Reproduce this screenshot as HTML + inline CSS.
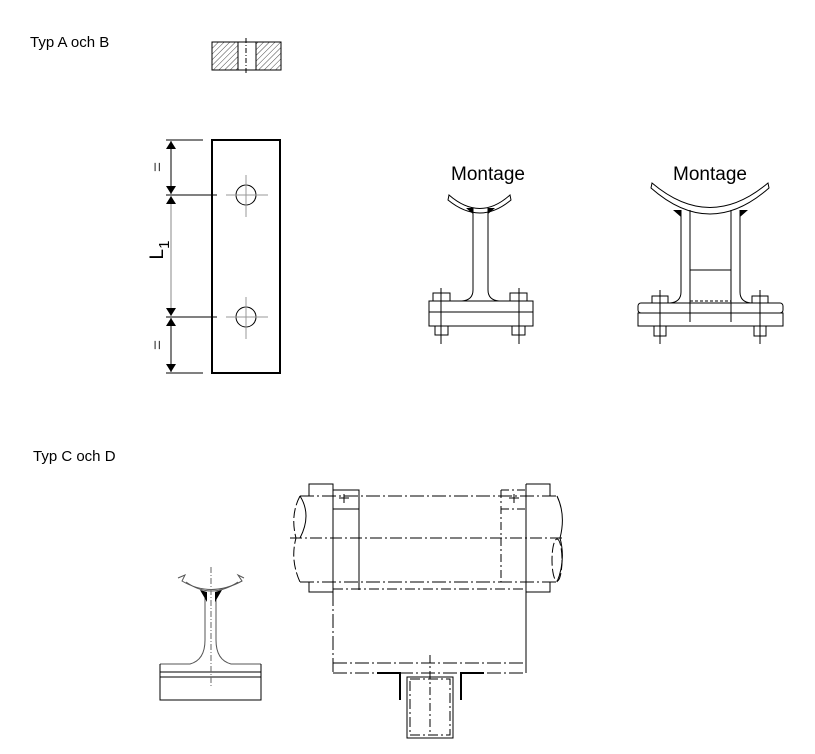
<!DOCTYPE html>
<html><head><meta charset="utf-8"><style>
body{margin:0;background:#fff;width:815px;height:754px;overflow:hidden}
svg{display:block}
text{font-family:"Liberation Sans",sans-serif}
</style></head><body>
<svg width="815" height="754" viewBox="0 0 815 754" xmlns="http://www.w3.org/2000/svg">
<defs>
<pattern id="h" width="4" height="4" patternUnits="userSpaceOnUse" patternTransform="rotate(45)">
<line x1="0" y1="0" x2="0" y2="4" stroke="#333" stroke-width="0.9"/></pattern>
<marker id="a" markerWidth="8" markerHeight="10" refX="8" refY="5" orient="auto" markerUnits="userSpaceOnUse">
<path d="M0,0 L8,5 L0,10 z" fill="#000"/></marker>
</defs>
<text x="30" y="47" font-size="15">Typ A och B</text>
<text x="33" y="461" font-size="15">Typ C och D</text>

<!-- section -->
<rect x="212" y="42" width="26" height="28" fill="url(#h)" stroke="#000"/>
<rect x="256" y="42" width="25" height="28" fill="url(#h)" stroke="#000"/>
<line x1="212" y1="42" x2="281" y2="42" stroke="#000"/>
<line x1="212" y1="70" x2="281" y2="70" stroke="#000"/>
<line x1="246" y1="38" x2="246" y2="74" stroke="#000" stroke-dasharray="5,2,1,2"/>

<!-- plate -->
<rect x="212" y="140" width="68" height="233" fill="none" stroke="#000" stroke-width="2"/>
<circle cx="246" cy="195" r="10" fill="none" stroke="#000"/>
<circle cx="246" cy="317" r="10" fill="none" stroke="#000"/>
<g stroke="#999"><line x1="226" y1="195" x2="268" y2="195"/><line x1="246" y1="175" x2="246" y2="217"/>
<line x1="226" y1="317" x2="268" y2="317"/><line x1="246" y1="297" x2="246" y2="339"/></g>
<g stroke="#000"><line x1="166" y1="140" x2="203" y2="140"/><line x1="166" y1="195" x2="217" y2="195"/>
<line x1="166" y1="317" x2="217" y2="317"/><line x1="166" y1="373" x2="203" y2="373"/></g>
<g stroke="#000" stroke-width="1"><line x1="171" y1="167" x2="171" y2="141" marker-end="url(#a)"/><line x1="171" y1="167" x2="171" y2="194" marker-end="url(#a)"/>
<line x1="171" y1="345" x2="171" y2="318" marker-end="url(#a)"/><line x1="171" y1="345" x2="171" y2="372" marker-end="url(#a)"/></g>
<g stroke="#888"><line x1="171" y1="256" x2="171" y2="196" marker-end="url(#a)"/><line x1="171" y1="256" x2="171" y2="316" marker-end="url(#a)"/></g>
<text transform="translate(163,167) rotate(-90)" font-size="17" text-anchor="middle" fill="#444">=</text>
<text transform="translate(163,345) rotate(-90)" font-size="17" text-anchor="middle" fill="#444">=</text>
<text transform="translate(163,250) rotate(-90)" font-size="19" text-anchor="middle">L<tspan font-size="15" dy="6">1</tspan></text>

<!-- middle support -->
<text x="488" y="180" font-size="19" text-anchor="middle">Montage</text>
<g fill="none" stroke="#000">
<path d="M449,195 Q480,222 510,195 L511,200 Q480,226 448,200 z" fill="#fff"/>
<path d="M473,208 L473,290 Q473,300 462,301 L429,301"/>
<path d="M488,208 L488,290 Q488,300 499,301 L533,301"/>
<rect x="429" y="301" width="104" height="11"/><rect x="429" y="312" width="104" height="14"/>
<rect x="433" y="293" width="17" height="8" fill="#fff"/><rect x="510" y="293" width="17" height="8" fill="#fff"/>
<rect x="435" y="326" width="13" height="9"/><rect x="512" y="326" width="13" height="9"/>
<line x1="441" y1="288" x2="441" y2="344"/><line x1="519" y1="288" x2="519" y2="344"/>
</g>
<path d="M466,208 L473,208 L473,214 z M495,208 L488,208 L488,214 z" fill="#000"/>

<!-- right support -->
<text x="710" y="180" font-size="19" text-anchor="middle">Montage</text>
<g fill="none" stroke="#000">
<path d="M652,183 Q710,232 768,183 L769,188 Q710,240 651,188 z" fill="#fff"/>
<path d="M681,210 L681,292 Q681,302 670,303"/><line x1="690" y1="210" x2="690" y2="322"/>
<line x1="731" y1="210" x2="731" y2="322"/><path d="M740,210 L740,292 Q740,302 751,303"/>
<line x1="690" y1="270" x2="731" y2="270"/><line x1="690" y1="301" x2="731" y2="301" stroke-dasharray="3,2"/>
<rect x="638" y="303" width="145" height="10" rx="3"/><rect x="638" y="313" width="145" height="13"/>
<rect x="652" y="296" width="16" height="7" fill="#fff"/><rect x="752" y="296" width="16" height="7" fill="#fff"/>
<rect x="654" y="326" width="12" height="10"/><rect x="754" y="326" width="12" height="10"/>
<line x1="660" y1="290" x2="660" y2="344"/><line x1="760" y1="290" x2="760" y2="344"/>
</g>
<path d="M673,210 L681,210 L681,217 z M748,210 L740,210 L740,217 z" fill="#000"/>

<!-- bottom left T -->
<g fill="none" stroke="#555">
<path d="M178,578 L185,575 L182,581 Q211,598 242,581 L238,575 L244,578"/>
<path d="M186,582 Q211,600 238,582"/>
<path d="M205,598 L205,640 Q205,660 190,664 L160,664"/>
<path d="M216,598 L216,640 Q216,660 231,664 L261,664"/>
</g>
<path d="M200,590 L207,592 L207,602 z M222,590 L215,592 L215,602 z" fill="#000"/>
<g fill="none" stroke="#000"><rect x="160" y="672" width="101" height="28"/><line x1="160" y1="677" x2="261" y2="677"/>
<line x1="160" y1="664" x2="160" y2="672"/><line x1="261" y1="664" x2="261" y2="672"/></g>
<line x1="211" y1="567" x2="211" y2="686" stroke="#666" stroke-dasharray="6,2,1,2"/>

<!-- pipe assembly -->
<g fill="none" stroke="#000" stroke-width="1">
<line x1="290" y1="538" x2="565" y2="538" stroke-dasharray="12,3,2,3"/>
<line x1="300" y1="496" x2="557" y2="496" stroke-dasharray="14,3,2,3"/>
<line x1="300" y1="582" x2="557" y2="582" stroke-dasharray="14,3,2,3"/>
<path d="M300,496 Q290,515 296,538 Q290,560 300,582" stroke-dasharray="10,3"/>
<path d="M300,496 Q312,515 300,538"/>
<path d="M557,496 Q566,515 560,538 Q566,560 557,582"/>
<ellipse cx="557" cy="560" rx="5" ry="21" stroke-dasharray="10,3"/>
<path d="M309,496 L309,484 L333,484 L333,592 M309,582 L309,592 L333,592"/>
<path d="M333,490 L359,490 L359,590 M333,509 L359,509"/>
<path d="M526,484 L550,484 L550,496 M526,582 L526,592 L550,592 L550,582 M526,484 L526,592"/>
<path d="M501,490 L526,490 M501,509 L526,509 M501,490 L501,582" stroke-dasharray="8,3,2,3"/>
<line x1="344" y1="494" x2="344" y2="503"/><line x1="339" y1="498" x2="349" y2="498"/>
<line x1="514" y1="494" x2="514" y2="503"/><line x1="509" y1="498" x2="519" y2="498"/>
<line x1="333" y1="589" x2="526" y2="589" stroke-dasharray="10,3,2,3"/>
<line x1="333" y1="592" x2="333" y2="673" stroke-dasharray="14,3,2,3"/>
<line x1="526" y1="592" x2="526" y2="673"/>
<line x1="333" y1="663" x2="526" y2="663" stroke-dasharray="14,3,2,3"/>
<line x1="333" y1="673" x2="526" y2="673" stroke-dasharray="14,3,2,3"/>
<line x1="430" y1="655" x2="430" y2="735" stroke-dasharray="8,3,2,3"/>
<rect x="407" y="677" width="46" height="61"/>
<rect x="410" y="679" width="40" height="56" stroke-dasharray="10,3,2,3"/>
</g>
<g fill="none" stroke="#000" stroke-width="2">
<path d="M377,673 L400,673 L400,700"/><path d="M484,673 L461,673 L461,700"/>
</g>
</svg>
</body></html>
